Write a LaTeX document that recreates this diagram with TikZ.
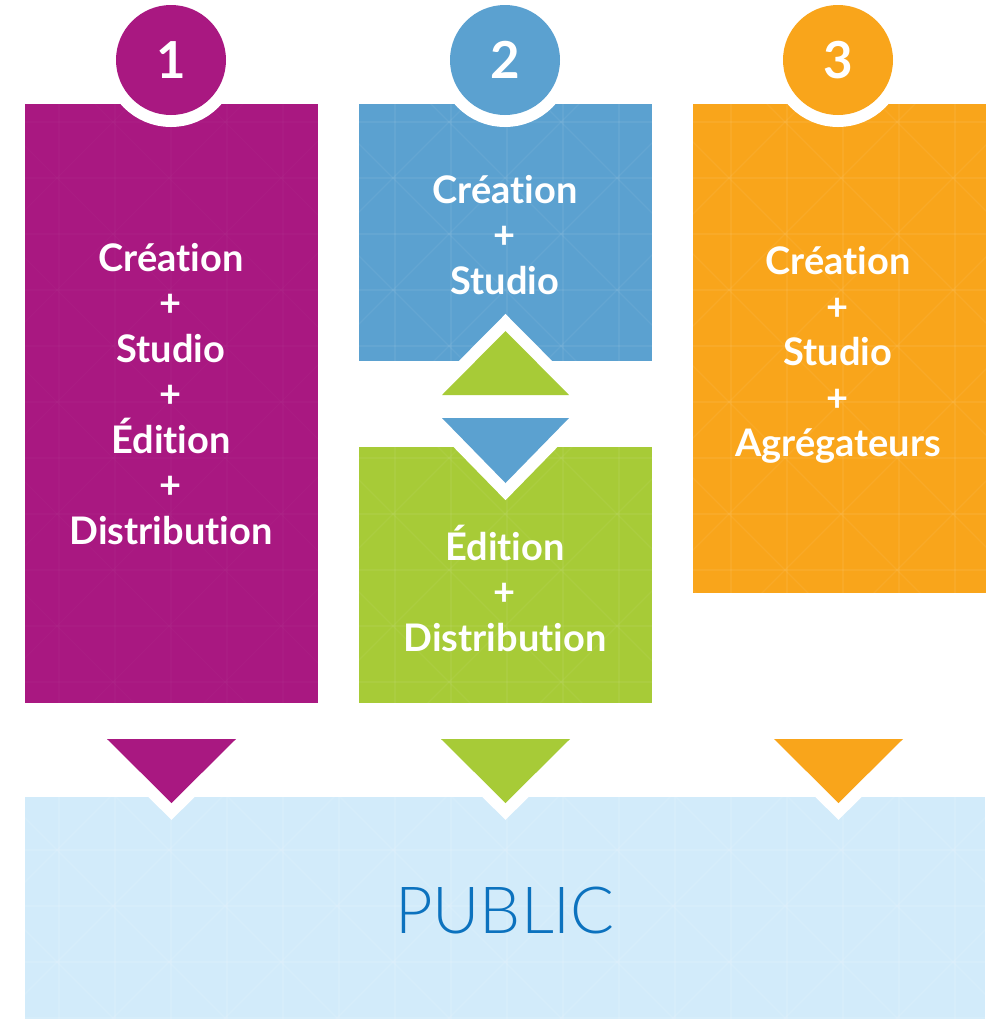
\documentclass[tikz,border=0pt]{standalone}
\usepackage{fontspec}
\setmainfont{Lato}[Ligatures={NoCommon}, RawFeature={-liga;-dlig}]
\newfontfamily\lightlato{Lato Light}
\definecolor{cpurple}{RGB}{169,24,129}
\definecolor{cblue}{RGB}{91,161,208}
\definecolor{cgreen}{RGB}{167,203,55}
\definecolor{corange}{RGB}{249,165,27}
\definecolor{cpublicbg}{RGB}{210,235,250}
\definecolor{cpublic}{RGB}{12,114,190}
\newcommand{\panelgrid}[2]{%
  \begin{scope}
    \clip (#1.north west) rectangle (#1.south east);
    \begin{scope}[draw=white, draw opacity=#2, line width=1.2pt]
      \foreach \gx in {3,59,...,1000} \draw (\gx,0) -- (\gx,1021);
      \foreach \gy in {10,66,...,1030} \draw (0,\gy) -- (998,\gy);
      \foreach \gk in {-10,...,9} \draw (103+112*\gk,0) -- (103+112*\gk+1021,1021);
      \foreach \gk in {0,...,19} \draw (11+112*\gk,0) -- (11+112*\gk-1021,1021);
    \end{scope}
  \end{scope}}
\begin{document}
\begin{tikzpicture}[x=1pt,y=-1pt,
  panel/.style={inner sep=0pt, outer sep=0pt, anchor=north west, draw=none},
  numc/.style={circle, minimum size=110pt, inner sep=0pt, text=white,
    font=\bfseries\fontsize{51}{51}\selectfont,
    preaction={draw=white, line width=24pt}},
  lbl/.style={text=white, align=center, inner sep=0pt,
    font=\bfseries\fontsize{38}{45.5}\selectfont},
  tri/.style={preaction={draw=white, line width=24pt, line join=miter}}
]
\useasboundingbox (0,0) rectangle (998,1021);
\fill[white] (0,0) rectangle (998,1021);

% panels
\node[panel, fill=cpurple, minimum width=293pt, minimum height=599pt] (p1) at (25,104) {};
\node[panel, fill=cblue, minimum width=293pt, minimum height=257pt] (p2a) at (359,104) {};
\node[panel, fill=cgreen, minimum width=293pt, minimum height=256pt] (p2b) at (359,447) {};
\node[panel, fill=corange, minimum width=293pt, minimum height=489pt] (p3) at (693,104) {};
\panelgrid{p1}{0.02}
\panelgrid{p2a}{0.06}
\panelgrid{p2b}{0.05}
\panelgrid{p3}{0.06}

% number circles
\node[numc, fill=cpurple] (n1) at (171,60) {1};
\node[numc, fill=cblue] (n2) at (505,60) {2};
\node[numc, fill=corange] (n3) at (838,60) {3};

% middle exchange triangles
\fill[cgreen, tri] (442,395) -- (505.5,331) -- (569,395) -- cycle;
\fill[cblue, tri] (442,418) -- (505.5,483) -- (569,418) -- cycle;

% labels
\node[lbl] (t1) at (171,394) {Création\\+\\Studio\\+\\Édition\\+\\Distribution};
\node[lbl] (t2a) at (505,235) {Création\\+\\Studio};
\node[lbl] (t2b) at (505,588) {Édition\\+\\Distribution};
\node[lbl] (t3) at (838,355) {Création\\+\\Studio\\+\\Agrégateurs};

% public
\node[panel, fill=cpublicbg, minimum width=960pt, minimum height=222pt] (pub) at (25,797) {};
\panelgrid{pub}{0.1}
\node[text=cpublic, inner sep=0pt, font=\lightlato\fontsize{65}{65}\selectfont] (publbl) at (505,910.5) {PUBLIC};

% down triangles to public
\fill[cpurple, tri] (107,739) -- (171.5,803) -- (236,739) -- cycle;
\fill[cgreen, tri] (441,739) -- (505.5,803) -- (570,739) -- cycle;
\fill[corange, tri] (774,739) -- (838.5,803) -- (903,739) -- cycle;
\end{tikzpicture}
\end{document}
